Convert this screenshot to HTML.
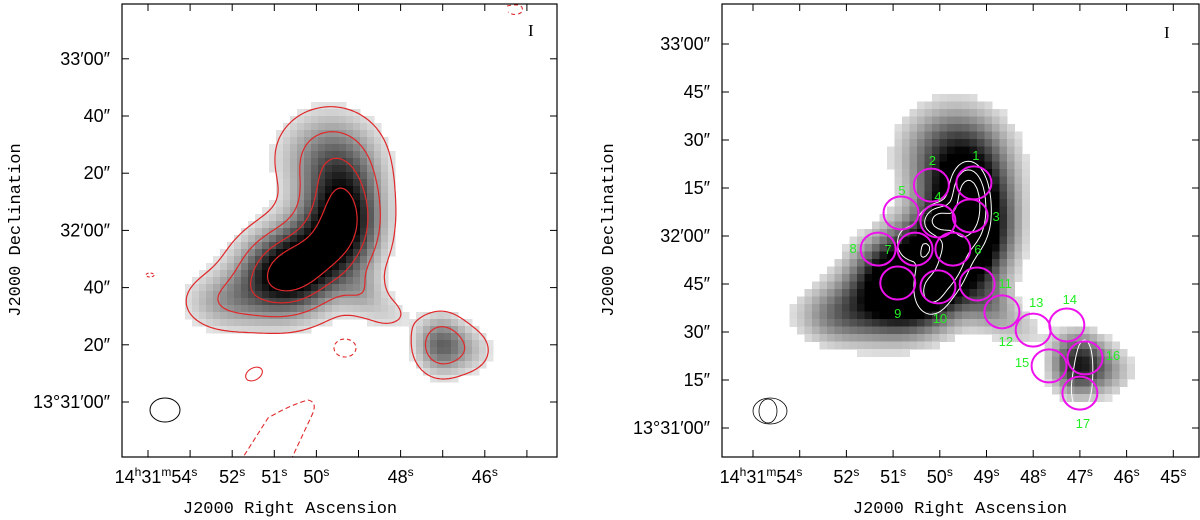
<!DOCTYPE html>
<html><head><meta charset="utf-8"><style>
html,body{margin:0;padding:0;background:#fff;}
svg{display:block;font-family:"Liberation Sans",sans-serif;}
</style></head><body>
<svg id="fig" width="1200" height="520" viewBox="0 0 1200 520" xmlns="http://www.w3.org/2000/svg">
<defs>
<clipPath id="clipL"><rect x="122" y="4" width="435" height="453"/></clipPath>
<clipPath id="clipR"><rect x="722" y="4" width="477" height="453"/></clipPath>
</defs>
<g id="left">
<g id="imgL" clip-path="url(#clipL)"></g>
<g id="contL" clip-path="url(#clipL)"></g>
<g clip-path="url(#clipL)" fill="none" stroke="#e0282a" stroke-width="1.1">
<ellipse cx="345" cy="348" rx="11" ry="9" stroke-dasharray="4,3"/>
<path d="M240,462 L268,418 Q290,405 308,400 Q318,402 312,415 L290,462" stroke-dasharray="5,3"/>
<path d="M507,6 Q525,2 522,12 Q515,17 508,12" stroke-dasharray="4,3"/>
<ellipse cx="150" cy="275" rx="4" ry="2" stroke-dasharray="3,2"/>
<ellipse cx="254" cy="374" rx="9" ry="6" transform="rotate(-30 254 374)"/>
</g>
<ellipse cx="165" cy="410" rx="15" ry="12" fill="none" stroke="#000"/>
<text x="528" y="36" font-family="Liberation Serif,serif" font-size="17">I</text>
<rect x="122" y="4" width="435" height="453" fill="none" stroke="#000" stroke-width="1.2"/>
<g id="axL"></g>
<text transform="translate(20,230) rotate(-90)" text-anchor="middle" font-size="17" font-family="Liberation Mono,monospace">J2000 Declination</text>
<text x="290" y="513" text-anchor="middle" font-size="17" font-family="Liberation Mono,monospace">J2000 Right Ascension</text>
</g>
<g id="right">
<g id="imgR" clip-path="url(#clipR)"></g>
<g id="contR" clip-path="url(#clipR)"></g>
<g id="circR"></g>
<ellipse cx="770" cy="411" rx="17" ry="13" fill="none" stroke="#000" stroke-width="0.8"/>
<ellipse cx="768" cy="411" rx="9" ry="12" fill="none" stroke="#000" stroke-width="0.8"/>
<text x="1164" y="38" font-family="Liberation Serif,serif" font-size="17">I</text>
<rect x="722" y="4" width="477" height="453" fill="none" stroke="#000" stroke-width="1.2"/>
<g id="axR"></g>
<text transform="translate(613,230) rotate(-90)" text-anchor="middle" font-size="17" font-family="Liberation Mono,monospace">J2000 Declination</text>
<text x="960" y="513" text-anchor="middle" font-size="17" font-family="Liberation Mono,monospace">J2000 Right Ascension</text>
</g>
</svg>
<script>
// ---- data ----
const leftRaTicks = [54,53,52,51,50,49,48,47,46,45];
const leftRaLabels = ["54","","52","51","50","","48","","46",""];
const leftDecTicks = [120,100,80,60,40,20,0];
const leftDecLabels = ["33′00″","40″","20″","32′00″","40″","20″","13°31′00″"];
const rightRaTicks = [54,53,52,51,50,49,48,47,46,45];
const rightRaLabels = ["54","","52","51","50","49","48","47","46","45"];
const rightDecTicks = [120,105,90,75,60,45,30,15,0];
const rightDecLabels = ["33′00″","45″","30″","15″","32′00″","45″","30″","15″","13°31′00″"];
// emission components (RA seconds, Dec arcsec above 13°31'00")
const compRa  = [50.8, 49.35, 50.1, 49.7, 52.2, 47.05, 46.3, 48.3, 48.9];
const compDec = [44,   64,    52,   86,   35,   20,    18,   31,   38];
const compAmp = [1.0,  1.05,  0.45, 0.5,  0.35, 0.62,  0.22, 0.18, 0.22];
const compSx  = [11,   9,     10,   12,   10,   6,     6,    6,    5];
const compSy  = [10,   13,    10,   11,   7,    7,     6,    5,    5];
const redLevels = [0.12, 0.33, 0.58, 0.8];
// compact emission for white contours
const c2Ra  = [49.35, 49.4, 50.04, 49.75, 50.2, 50.7, 46.9, 47.0];
const c2Dec = [66,    76,   65,    52,    42,   58,   22,   10];
const c2Amp = [1.0,   0.6,  0.9,   0.7,   0.65, 0.45, 0.45, 0.4];
const c2Sx  = [4.5,   4,    3.5,   4,     4.5,  5,    3.5,  3];
const c2Sy  = [8,     6,    3.5,   7,     6,    7,    9,    6];
const whiteLevels = [0.3, 0.5, 0.75];
// apertures
const apRa  = [49.27,50.18,49.35,50.04,50.83,49.72,50.53,51.32,50.90,50.04,49.20,48.67,48.00,47.28,47.66,46.89,47.00];
const apDec = [76.6, 75.9, 66.3, 64.7, 67.2, 55.9, 55.9, 55.9, 45.3, 44.1, 45.0, 36.3, 30.6, 32.2, 19.4, 21.9, 10.9];
const apLabels = ["1","2","3","4","5","6","7","8","9","10","11","12","13","14","15","16","17"];
const apLabDx = [2,1,26,0,1,25,-27,-25,0,2,28,4,3,3,-27,28,3];
const apLabDy = [-28,-25,0,-25,-23,0,0,-1,30,31,-1,29,-28,-26,-4,-3,30];

// ---- scales ----
const L = {x0:122,x1:557,y0:4,y1:457, xs:ra=>148+(54-ra)*42.1, ys:d=>402-d*2.86, xi:x=>54-(x-148)/42.1, yi:y=>(402-y)/2.86};
const R = {x0:722,x1:1199,y0:4,y1:457, xs:ra=>753+(54-ra)*46.7, ys:d=>428-d*3.2, xi:x=>54-(x-753)/46.7, yi:y=>(428-y)/3.2};
const NS="http://www.w3.org/2000/svg";
function mk(tag,attrs,parent){const e=document.createElementNS(NS,tag);for(const k in attrs)e.setAttribute(k,attrs[k]);parent.appendChild(e);return e;}
function field(ra,dec,A,D,M,SX,SY){let s=0;for(let i=0;i<A.length;i++){const dx=(ra-A[i])*14.6,dy=dec-D[i];s+=M[i]*Math.exp(-(dx*dx/(2*SX[i]*SX[i])+dy*dy/(2*SY[i]*SY[i])));}return s;}
function fmax(F){let m=0;for(let ra=45;ra<=54;ra+=0.05)for(let d=0;d<=120;d+=0.5){const v=F(ra,d);if(v>m)m=v;}return m;}
const M1=fmax((r,d)=>field(r,d,compRa,compDec,compAmp,compSx,compSy));
const M2=fmax((r,d)=>field(r,d,c2Ra,c2Dec,c2Amp,c2Sx,c2Sy));
const F1=(ra,dec)=>field(ra,dec,compRa,compDec,compAmp,compSx,compSy)/M1;
const F2=(ra,dec)=>field(ra,dec,c2Ra,c2Dec,c2Amp,c2Sx,c2Sy)/M2;

function drawImage(P,g,cell,thr,vmax){
  for(let y=P.y0;y<P.y1;y+=cell)for(let x=P.x0;x<P.x1;x+=cell){
    const v=F1(P.xi(x+cell/2),P.yi(y+cell/2));
    if(v<thr)continue;
    const t=Math.min(1,(v-thr*0.7)/(vmax-thr*0.7));
    const c=Math.round(238*(1-t));
    const r=mk('rect',{x:x,y:y,width:cell+0.5,height:cell+0.5,fill:`rgb(${c},${c},${c})`},g);
    
    
  }
}
function contours(P,g,F,levels,color,w){
  const st=3;const nx=Math.ceil((P.x1-P.x0)/st)+1, ny=Math.ceil((P.y1-P.y0)/st)+1;
  const V=[];for(let j=0;j<ny;j++){V.push([]);for(let i=0;i<nx;i++)V[j].push(F(P.xi(P.x0+i*st),P.yi(P.y0+j*st)));}
  levels.forEach(lv=>{
    let d="";
    for(let j=0;j<ny-1;j++)for(let i=0;i<nx-1;i++){
      const a=V[j][i],b=V[j][i+1],c=V[j+1][i+1],e=V[j+1][i];
      const x=P.x0+i*st,y=P.y0+j*st;const pts=[];
      const ed=(v1,v2,x1,y1,x2,y2)=>{if((v1>=lv)!==(v2>=lv)){const t=(lv-v1)/(v2-v1);pts.push([x1+t*(x2-x1),y1+t*(y2-y1)]);}};
      ed(a,b,x,y,x+st,y);ed(b,c,x+st,y,x+st,y+st);ed(c,e,x+st,y+st,x,y+st);ed(e,a,x,y+st,x,y);
      for(let k=0;k+1<pts.length;k+=2)d+=`M${pts[k][0].toFixed(1)},${pts[k][1].toFixed(1)}L${pts[k+1][0].toFixed(1)},${pts[k+1][1].toFixed(1)}`;
    }
    const p=mk('path',{d:d,fill:'none',stroke:color,'stroke-width':w},g);
    
    
  });
}
function axes(P,g,raT,raL,decT,decL){
  raT.forEach((ra,i)=>{const x=P.xs(ra);
    mk('line',{x1:x,y1:P.y1,x2:x,y2:P.y1-7,stroke:'#000'},g);
    mk('line',{x1:x,y1:P.y0,x2:x,y2:P.y0+7,stroke:'#000'},g);
    if(raL[i]){const t=mk('text',{x:x,y:P.y1+26,'text-anchor':'middle','font-size':18},g);
      
      
      if(i===0){t.setAttribute('x',x+8);t.innerHTML=`14<tspan font-size="12" dy="-7">h</tspan><tspan dy="7">31</tspan><tspan font-size="12" dy="-7">m</tspan><tspan dy="7">54</tspan><tspan font-size="12" dy="-7">s</tspan>`;}
      else t.innerHTML=`${raL[i]}<tspan font-size="12" dy="-7">s</tspan>`;}
  });
  decT.forEach((d,i)=>{const y=P.ys(d);if(y<P.y0+2)return;
    mk('line',{x1:P.x0,y1:y,x2:P.x0+7,y2:y,stroke:'#000'},g);
    mk('line',{x1:P.x1,y1:y,x2:P.x1-7,y2:y,stroke:'#000'},g);
    const t=mk('text',{x:P.x0-12,y:y+6,'text-anchor':'end','font-size':18},g);
    
    
    t.textContent=decL[i];
  });
}
drawImage(L,document.getElementById('imgL'),7,0.1,0.8);
contours(L,document.getElementById('contL'),F1,redLevels,'#e0282a',1.2);
axes(L,document.getElementById('axL'),leftRaTicks,leftRaLabels,leftDecTicks,leftDecLabels);
drawImage(R,document.getElementById('imgR'),7.5,0.1,0.55);
contours(R,document.getElementById('contR'),F2,whiteLevels,'#fff',1);
axes(R,document.getElementById('axR'),rightRaTicks,rightRaLabels,rightDecTicks,rightDecLabels);
const cg=document.getElementById('circR');
apRa.forEach((ra,i)=>{const x=R.xs(apRa[i]),y=R.ys(apDec[i]);
  const c=mk('ellipse',{cx:x,cy:y,rx:17.5,ry:16.5,fill:'none',stroke:'#ee11ee','stroke-width':2},cg);
  
  
  const t=mk('text',{x:x+apLabDx[i],y:y+apLabDy[i]+5,'text-anchor':'middle','font-size':13,fill:'#22ee22'},cg);
  
  
  t.textContent=apLabels[i];
});
</script>
</body></html>
